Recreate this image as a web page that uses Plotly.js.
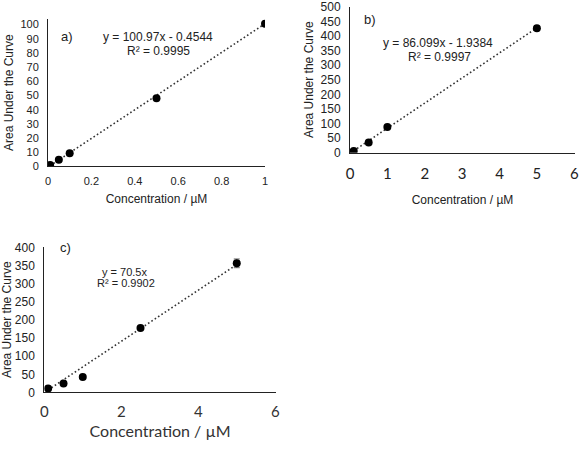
<!DOCTYPE html>
<html>
<head>
<meta charset="utf-8">
<script src="https://cdn.plot.ly/plotly-3.0.1.min.js"></script>
<style>
  html, body { margin: 0; padding: 0; background: #fff; }
  #chart { width: 588px; height: 463px; }
</style>
</head>
<body>
<div id="chart"></div>
<script>
// Calibration data for three panels: concentration (µM) vs area under the curve
const concA = [0.01, 0.05, 0.1, 0.5, 1];
const aucA  = [1, 4.7, 9.4, 48, 100.5];
const fitA  = { slope: 100.97, intercept: -0.4544, r2: 0.9995 };

const concB = [0.1, 0.5, 1, 5];
const aucB  = [6, 35, 88, 427];
const fitB  = { slope: 86.099, intercept: -1.9384, r2: 0.9997 };

const concC = [0.1, 0.5, 1, 2.5, 5];
const aucC  = [11, 25, 43, 178, 356];
const errC  = [0, 0, 0, 0, 12];
const fitC  = { slope: 70.5, intercept: 0, r2: 0.9902 };

const xTitle = 'Concentration / µM';
const yTitle = 'Area Under the Curve';

function eqText(f) {
  let s = 'y = ' + f.slope + 'x';
  if (f.intercept < 0) s += ' - ' + Math.abs(f.intercept);
  else if (f.intercept > 0) s += ' + ' + f.intercept;
  return s;
}

// Linear trend line drawn across the span of the measured concentrations
function fitTrace(x, f, xa, ya) {
  const x0 = Math.min(...x), x1 = Math.max(...x);
  return {
    x: [x0, x1],
    y: [f.slope * x0 + f.intercept, f.slope * x1 + f.intercept],
    xaxis: xa, yaxis: ya, mode: 'lines', hoverinfo: 'skip',
    line: { color: '#333', width: 1.6, dash: '1.6px,2.4px' }
  };
}

function pointTrace(x, y, xa, ya, err) {
  const t = {
    x: x, y: y, xaxis: xa, yaxis: ya, mode: 'markers',
    marker: { color: '#000', size: 8 }
  };
  if (err) t.error_y = { type: 'data', array: err, visible: true, color: '#666', thickness: 1, width: 3 };
  return t;
}

const traces = [
  fitTrace(concA, fitA, 'x', 'y'),
  pointTrace(concA, aucA, 'x', 'y'),
  fitTrace(concB, fitB, 'x2', 'y2'),
  pointTrace(concB, aucB, 'x2', 'y2'),
  fitTrace(concC, fitC, 'x3', 'y3'),
  pointTrace(concC, aucC, 'x3', 'y3', errC)
];

const arial = 'Liberation Sans, Arial, sans-serif';
const calibri = 'Lato, Open Sans, sans-serif';

function xAxis(domain, range, dtick, anchor, tickFont, titleFont, labelGap, titleGap) {
  return {
    domain: domain, range: range, dtick: dtick, anchor: anchor,
    showline: true, linecolor: '#222', linewidth: 1,
    showgrid: false, zeroline: false, ticks: '', ticklabelstandoff: labelGap,
    tickfont: tickFont, title: { text: xTitle, font: titleFont, standoff: titleGap }
  };
}
function yAxis(domain, range, dtick, anchor, tickFont, titleFont) {
  return {
    domain: domain, range: range, dtick: dtick, anchor: anchor,
    showline: true, linecolor: '#222', linewidth: 1,
    showgrid: false, zeroline: false, ticks: '', ticklabelstandoff: 6,
    tickfont: tickFont, title: { text: yTitle, font: titleFont, standoff: 4 }
  };
}

const layout = {
  width: 588, height: 463,
  margin: { l: 0, r: 0, t: 0, b: 0 },
  paper_bgcolor: '#fff', plot_bgcolor: '#fff',
  showlegend: false,
  xaxis:  xAxis([0.0816, 0.4507], [0, 1], 0.2, 'y',
                { family: arial, size: 11, color: '#222' }, { family: arial, size: 12, color: '#222' }, 4, 8),
  yaxis:  yAxis([0.6404, 0.9594], [0, 104], 10, 'x',
                { family: arial, size: 11, color: '#222' }, { family: arial, size: 12, color: '#222' }),
  xaxis2: xAxis([0.5952, 0.9779], [0, 6.02], 1, 'y2',
                { family: calibri, size: 15, color: '#222' }, { family: arial, size: 12, color: '#222' }, 7, 14),
  yaxis2: yAxis([0.6702, 0.9855], [0, 501], 50, 'x2',
                { family: arial, size: 12, color: '#222' }, { family: arial, size: 12, color: '#222' }),
  xaxis3: xAxis([0.0753, 0.4694], [0, 6.02], 2, 'y3',
                { family: calibri, size: 15, color: '#333' }, { family: calibri, size: 16, color: '#333' }, 6, 6),
  yaxis3: yAxis([0.1523, 0.4665], [0, 401], 50, 'x3',
                { family: arial, size: 12, color: '#222' }, { family: arial, size: 12, color: '#222' }),
  annotations: [
    { xref: 'x', yref: 'y', x: 0.0876, y: 91.2, text: 'a)', showarrow: false, font: { family: arial, size: 13, color: '#222' } },
    { xref: 'x', yref: 'y', x: 0.507, y: 91.2, text: eqText(fitA), showarrow: false, font: { family: arial, size: 12, color: '#222' } },
    { xref: 'x', yref: 'y', x: 0.507, y: 81.3, text: 'R² = ' + fitA.r2, showarrow: false, font: { family: arial, size: 12, color: '#222' } },
    { xref: 'x2', yref: 'y2', x: 0.53, y: 458, text: 'b)', showarrow: false, font: { family: arial, size: 13, color: '#222' } },
    { xref: 'x2', yref: 'y2', x: 2.35, y: 375.7, text: eqText(fitB), showarrow: false, font: { family: arial, size: 12, color: '#222' } },
    { xref: 'x2', yref: 'y2', x: 2.4, y: 327.7, text: 'R² = ' + fitB.r2, showarrow: false, font: { family: arial, size: 12, color: '#222' } },
    { xref: 'x3', yref: 'y3', x: 0.54, y: 398.6, text: 'c)', showarrow: false, font: { family: arial, size: 13, color: '#222' } },
    { xref: 'x3', yref: 'y3', x: 2.09, y: 333, text: eqText(fitC), showarrow: false, font: { family: arial, size: 11, color: '#222' } },
    { xref: 'x3', yref: 'y3', x: 2.12, y: 301, text: 'R² = ' + fitC.r2, showarrow: false, font: { family: arial, size: 11, color: '#222' } }
  ]
};

Plotly.newPlot('chart', traces, layout, { staticPlot: true, displayModeBar: false });
</script>
</body>
</html>
